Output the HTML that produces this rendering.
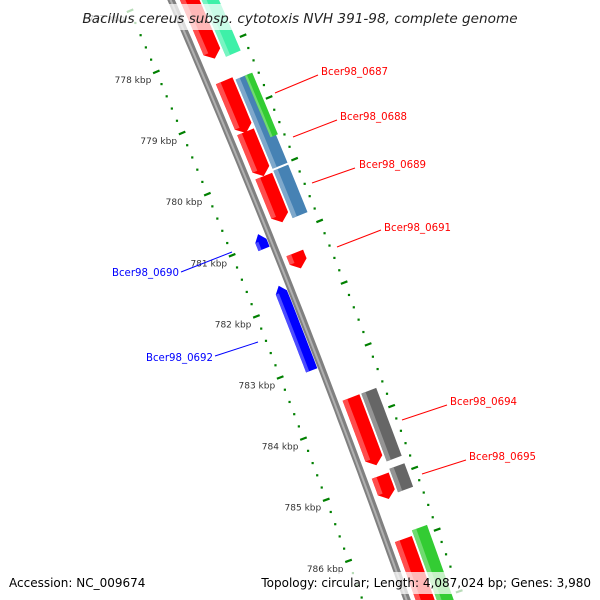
<!DOCTYPE html>
<html><head><meta charset="utf-8"><style>
html,body{margin:0;padding:0;background:#fff;width:600px;height:600px;overflow:hidden;}
svg{display:block;font-family:"DejaVu Sans","Liberation Sans",sans-serif;overflow:hidden;}
</style></head><body>
<svg id="map" width="600" height="600" viewBox="0 0 600 600" xmlns="http://www.w3.org/2000/svg">
<rect width="600" height="600" fill="#fff"/>
<g id="rulers"></g>
<g id="backbone"></g>
<g id="genes"></g>
<g id="labels"></g>
<rect x="78" y="4" width="444" height="26" fill="#fff" opacity="0.72"/>
<text x="300" y="23" text-anchor="middle" font-size="13.6" font-style="italic" fill="#222">Bacillus cereus subsp. cytotoxis NVH 391-98, complete genome</text>
<rect x="4" y="572" width="146" height="22" fill="#fff" opacity="0.72"/>
<text x="9" y="587" font-size="12" fill="#000">Accession: NC_009674</text>
<rect x="256" y="572" width="340" height="22" fill="#fff" opacity="0.72"/>
<text x="591" y="587" text-anchor="end" font-size="12" fill="#000">Topology: circular; Length: 4,087,024 bp; Genes: 3,980</text>
</svg>
<script>
// ---- data ----
const tickKbp = [777, 778, 779, 780, 781, 782, 783, 784, 785, 786, 787];
const tickLabels = ["777 kbp","778 kbp","779 kbp","780 kbp","781 kbp","782 kbp","783 kbp","784 kbp","785 kbp","786 kbp","787 kbp"];
const geneStart = [-2.5, 0.25, 1.08, 1.80, 3.05, 5.40, 6.67, 7.70, -2.5, 0.30, 1.78, 0.30, 5.40, 6.62, 7.62, 2.58, 3.42];
const geneEnd   = [-0.11, 1.10, 1.80, 2.55, 3.30, 6.50, 7.05, 10.0, -0.07, 1.75, 2.55, 1.30, 6.50, 7.00, 10.0, 2.82, 4.80];
const geneLane  = [1,1,1,1,1,1,1,1, 2,2,2,3,2,2,2, 0,0];
const geneStrand= [1,1,1,1,1,1,1,1, 0,0,0,0,0,0,0, -1,-1];
const geneColor = ["#ff0000","#ff0000","#ff0000","#ff0000","#ff0000","#ff0000","#ff0000","#ff0000",
                   "#3ef0a8","#4682b4","#4682b4","#33cc33","#666666","#666666","#33cc33","#0000ff","#0000ff"];
const labelNames = ["Bcer98_0687","Bcer98_0688","Bcer98_0689","Bcer98_0691","Bcer98_0694","Bcer98_0695","Bcer98_0690","Bcer98_0692"];
const labelX = [321,340,359,384,450,469,179,213];
const labelY = [75,120,168,231,405,460,276,361];
const labelLine = [[275,93,318,75],[293,137,337,120],[312,183,355,168],[337,247,381,230],[402,420,447,405],[422,474,466,460],[232,252,181,272],[258,342,215,356]];
const labelColor = ["#ff0000","#ff0000","#ff0000","#ff0000","#ff0000","#ff0000","#0000ff","#0000ff"];

// ---- geometry ----
const NS="http://www.w3.org/2000/svg";
const KBP0 = 778.27;
const OUTER_SHIFT = 0.74;
const lanes = {0:[-16,-4],1:[8,26],2:[28,44],3:[38,46]};
function P(t,d){
  const bx=202+26*t-0.25*t*t, by=72+61.4*t;
  let tx=26-0.5*t, ty=61.4; const L=Math.hypot(tx,ty); tx/=L; ty/=L;
  return [bx+d*ty, by-d*tx];
}
function mk(tag,attrs,parent){const e=document.createElementNS(NS,tag);for(const k in attrs)e.setAttribute(k,attrs[k]);parent.appendChild(e);return e;}
function ptsStr(a){return a.map(p=>p[0].toFixed(1)+","+p[1].toFixed(1)).join(" ");}
function band(s,e,d0,d1){
  const pts=[],n=Math.max(2,Math.ceil((e-s)*6));
  for(let i=0;i<=n;i++)pts.push(P(s+(e-s)*i/n,d0));
  for(let i=n;i>=0;i--)pts.push(P(s+(e-s)*i/n,d1));
  return pts;
}
function genePts(s,e,d0,d1,dir){
  const a=0.11, n=Math.max(2,Math.ceil((e-s)*6)), dm=(d0+d1)/2;
  let s2=s,e2=e; if(dir===1)e2=e-a; if(dir===-1)s2=s+a;
  const pts=[];
  if(dir===-1)pts.push(P(s,dm));
  for(let i=0;i<=n;i++)pts.push(P(s2+(e2-s2)*i/n,d0));
  if(dir===1)pts.push(P(e,dm));
  for(let i=n;i>=0;i--)pts.push(P(s2+(e2-s2)*i/n,d1));
  return pts;
}
function lighten(c){const r=parseInt(c.substr(1,2),16),g=parseInt(c.substr(3,2),16),b=parseInt(c.substr(5,2),16);
  const f=v=>Math.round(v+(255-v)*0.3);return "rgb("+f(r)+","+f(g)+","+f(b)+")";}

// ---- rulers ----
const rg=document.getElementById('rulers');
function ruler(d,shift,withLabels,name){
  for(let i=0;i<tickKbp.length;i++){
    const base=tickKbp[i]-778+shift;
    const a=P(base,d-3.5), b=P(base,d+3.5);
    const tk=mk('line',{x1:a[0],y1:a[1],x2:b[0],y2:b[1],stroke:'#008000','stroke-width':2.2},rg);
    
    
    for(let j=1;j<5;j++){
      const c=P(base+j*0.2,d);
      const dt=mk('rect',{x:c[0]-1.1,y:c[1]-1.1,width:2.2,height:2.2,fill:'#008000'},rg);
      
      
    }
    if(withLabels){
      const c=P(base,d);
      const tx=mk('text',{x:c[0]-5,y:c[1]+11,'text-anchor':'end','font-size':9,fill:'#333'},rg);
      tx.textContent=tickLabels[i];
      
      
    }
  }
}
ruler(-42, 778-KBP0, true, 'inner-ruler');
ruler(52, OUTER_SHIFT, false, 'outer-ruler');

// ---- backbone ----
const bg=document.getElementById('backbone');
const bb=mk('polygon',{points:ptsStr(band(-2,10,-3.5,3.5)),fill:'#808080'},bg);


const bh=mk('polygon',{points:ptsStr(band(-2,10,-1.5,0.5)),fill:'#b0b0b0'},bg);



// ---- genes ----
const gg=document.getElementById('genes');
for(let i=0;i<geneStart.length;i++){
  const [d0,d1]=lanes[geneLane[i]];
  const g=mk('g',{},gg);
  
  
  mk('polygon',{points:ptsStr(genePts(geneStart[i],geneEnd[i],d0,d1,geneStrand[i])),fill:geneColor[i]},g);
  const w=(d1-d0)*0.28;
  mk('polygon',{points:ptsStr(band(geneStart[i]+(geneStrand[i]===-1?0.11:0),geneEnd[i]-(geneStrand[i]===1?0.11:0),d0,d0+w)),fill:lighten(geneColor[i])},g);
}

// ---- labels ----
const lg=document.getElementById('labels');
for(let i=0;i<labelNames.length;i++){
  const L=labelLine[i];
  const ln=mk('line',{x1:L[0],y1:L[1],x2:L[2],y2:L[3],stroke:labelColor[i],'stroke-width':1},lg);
  
  
  const isBlue=labelColor[i]==='#0000ff';
  const t=mk('text',{x:labelX[i],y:labelY[i],'font-size':10.2,fill:labelColor[i],'text-anchor':isBlue?'end':'start'},lg);
  t.textContent=labelNames[i];
  
  
}
</script>
</body></html>
